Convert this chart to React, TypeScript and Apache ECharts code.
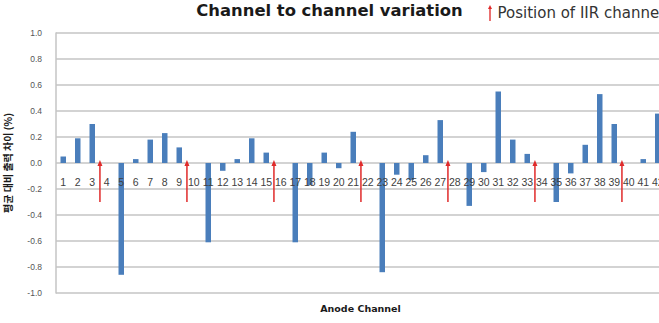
import React, { useEffect, useRef } from "react";
import * as echarts from "echarts";

const categories = [
  "1", "2", "3", "4", "5", "6", "7", "8", "9", "10",
  "11", "12", "13", "14", "15", "16", "17", "18", "19", "20",
  "21", "22", "23", "24", "25", "26", "27", "28", "29", "30",
  "31", "32", "33", "34", "35", "36", "37", "38", "39", "40",
  "41", "42",
];

const variation: (number | null)[] = [
  0.05, 0.19, 0.3, null, -0.86, 0.03, 0.18, 0.23, 0.12, null,
  -0.61, -0.06, 0.03, 0.19, 0.08, null, -0.61, -0.17, 0.08, -0.04,
  0.24, null, -0.84, -0.09, -0.13, 0.06, 0.33, null, -0.33, -0.07,
  0.55, 0.18, 0.07, null, -0.3, -0.08, 0.14, 0.53, 0.3, null,
  0.03, 0.38,
];

const iirChannels = [4, 10, 16, 22, 28, 34, 40];
const arrowDepth = [-0.3, -0.3, -0.3, -0.3, -0.3, -0.3, -0.3];

const TITLE = "Channel to channel variation";
const LEGEND_NAME = "Position of IIR channel";
const X_NAME = "Anode Channel";
const Y_NAME = "평균 대비 출력 차이 (%)";

const RED = "#e02a2a";
const BLUE = "#4a7ebb";
const GRID = "#c4c4c4";

export default function App() {
  const ref = useRef<HTMLDivElement>(null);

  useEffect(() => {
    if (!ref.current) return;
    const chart = echarts.init(ref.current, undefined, { renderer: "svg" });
    chart.setOption({
      animation: false,
      backgroundColor: "#ffffff",
      title: {
        text: TITLE,
        left: "center",
        top: -3,
        textStyle: {
          fontFamily: "DejaVu Sans",
          fontSize: 16.4,
          fontWeight: "bold",
          color: "#1a1a1a",
        },
      },
      legend: {
        data: [
          {
            name: LEGEND_NAME,
            icon: "path://M3,0L6,6L4,6L4,24L2,24L2,6L0,6Z",
          },
        ],
        left: 483,
        top: 0,
        itemWidth: 5,
        itemHeight: 16,
        textStyle: {
          fontFamily: "DejaVu Sans",
          fontSize: 15,
          color: "#333333",
        },
      },
      grid: {
        left: 56,
        right: -6,
        top: 33,
        bottom: 30,
        containLabel: false,
        outerBoundsMode: "none",
      },
      xAxis: {
        type: "category",
        data: categories,
        z: 6,
        name: X_NAME,
        nameLocation: "middle",
        nameGap: 10,
        nameTextStyle: {
          fontFamily: "DejaVu Sans",
          fontSize: 9.5,
          fontWeight: "bold",
          color: "#1a1a1a",
        },
        axisLine: { show: false, onZero: false },
        axisTick: { show: false },
        axisLabel: {
          interval: 0,
          margin: -117,
          fontFamily: "Liberation Sans",
          fontSize: 10.5,
          color: "#404040",
        },
        splitLine: { show: false },
      },
      yAxis: {
        type: "value",
        min: -1,
        max: 1,
        interval: 0.2,
        name: Y_NAME,
        nameLocation: "middle",
        nameRotate: 90,
        nameGap: 44,
        nameTextStyle: {
          fontFamily: "Noto Sans CJK KR",
          fontSize: 10,
          fontWeight: "bold",
          color: "#1a1a1a",
        },
        axisLine: { show: true, lineStyle: { color: GRID, width: 1.5 } },
        axisTick: { show: false },
        axisLabel: {
          margin: 14,
          fontFamily: "Liberation Sans",
          fontSize: 8.5,
          color: "#555555",
          formatter: (v: number) => v.toFixed(1),
        },
        splitLine: { show: true, lineStyle: { color: GRID, width: 1.5 } },
      },
      series: [
        {
          type: "bar",
          name: "variation",
          data: variation,
          barWidth: 5.5,
          itemStyle: { color: BLUE },
          z: 3,
        },
        {
          type: "custom",
          name: LEGEND_NAME,
          itemStyle: { color: RED },
          data: iirChannels.map((c, i) => [c - 1, arrowDepth[i]]),
          encode: { x: 0, y: 1 },
          z: 4,
          renderItem: (params: any, api: any) => {
            const idx = api.value(0);
            const depth = api.value(1);
            const band = api.size([1, 0])[0];
            const top = api.coord([idx, 0]);
            const bottom = api.coord([idx, depth]);
            const x = top[0] - band * 0.47;
            return {
              type: "group",
              children: [
                {
                  type: "line",
                  shape: { x1: x, y1: top[1] + 1, x2: x, y2: bottom[1] },
                  style: { stroke: RED, lineWidth: 1.5 },
                },
                {
                  type: "polygon",
                  shape: {
                    points: [
                      [x, top[1] - 3],
                      [x - 2.5, top[1] + 3],
                      [x + 2.5, top[1] + 3],
                    ],
                  },
                  style: { fill: RED },
                },
              ],
            };
          },
        },
      ],
    });
    return () => chart.dispose();
  }, []);

  return (
    <div
      ref={ref}
      style={{
        position: "fixed",
        left: 0,
        top: 0,
        width: 659,
        height: 323,
        background: "#ffffff",
      }}
    />
  );
}
